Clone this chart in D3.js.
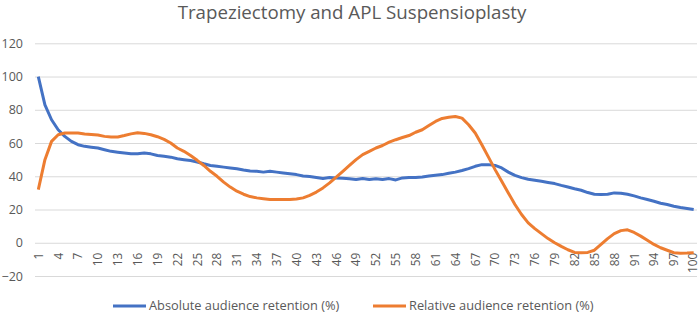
<!DOCTYPE html>
<html>
<head>
<meta charset="utf-8">
<script src="https://cdn.jsdelivr.net/npm/d3@7"></script>
<style>
  body { margin: 0; background: #fff; }
  svg { display: block; font-family: "Open Sans", "Noto Sans", sans-serif; }
</style>
</head>
<body>
<svg id="chart" width="699" height="316"></svg>
<script>
const title = "Trapeziectomy and APL Suspensioplasty";
const categories = d3.range(1, 101);
const yTicks = [-20, 0, 20, 40, 60, 80, 100, 120];
const seriesNames = ["Absolute audience retention (%)", "Relative audience retention (%)"];

const absolute = [
  100, 83, 74, 68, 64, 61, 59, 58, 57.5, 57,
  56, 55, 54.5, 54, 53.5, 53.5, 54, 53.5, 52.5, 52,
  51.5, 50.5, 50, 49.5, 48.6, 47.5, 46.5, 46, 45.5, 45,
  44.5, 43.8, 43.2, 43, 42.5, 43, 42.5, 42, 41.5, 41,
  40.2, 39.8, 39.2, 38.6, 39.2, 39, 38.8, 38.5, 38, 38.6,
  38, 38.5, 38, 38.6, 37.8, 39, 39.2, 39.2, 39.6, 40.2,
  40.6, 41, 41.8, 42.5, 43.5, 44.6, 46, 47, 47, 46.5,
  45, 42.5, 40.5, 39.2, 38.2, 37.6, 37, 36.3, 35.6, 34.5,
  33.5, 32.5, 31.6, 30.2, 29.2, 29, 29.2, 30, 29.8, 29.2,
  28.2, 27, 26, 25, 23.8, 23, 22, 21.2, 20.6, 20
];

const relative = [
  32, 50, 61, 65, 66, 66, 66, 65.5, 65.2, 64.8,
  64, 63.6, 63.6, 64.5, 65.5, 66.2, 65.8, 65, 63.8, 62.2,
  60, 57, 55, 52.5, 49.6, 46.5, 43, 40, 36.5, 33.5,
  31, 29.2, 27.8, 27, 26.5, 26, 26, 26, 26, 26.3,
  27, 28.5, 30.5, 33, 36, 39.5, 43, 46.5, 50, 53,
  55, 57, 58.5, 60.5, 62, 63.3, 64.5, 66.5, 68, 70.5,
  73, 74.8, 75.5, 76, 75, 71, 66, 59, 51.5, 44,
  37, 30, 23, 17, 12, 8.5, 5.5, 2.5, 0, -2.2,
  -4.2, -5.8, -6, -5.8, -4.5, -1, 2.5, 5.5, 7.3, 7.8,
  6.2, 4, 1.5, -1, -3, -4.5, -6, -6.3, -6.2, -6
];

const colors = ["#4472C4", "#ED7D31"];
const textColor = "#595959";

const svg = d3.select("#chart");
const plotLeft = 35, plotRight = 697, plotTop = 43.3, plotBottom = 276;

const x = d3.scalePoint().domain(categories).range([plotLeft, plotRight]).padding(0.5);
const y = d3.scaleLinear().domain([-20, 120]).range([plotBottom, plotTop]);

// title
svg.append("text")
  .attr("x", 352).attr("y", 18.5)
  .attr("text-anchor", "middle")
  .style("font-size", "18.7px")
  .style("fill", textColor)
  .text(title);

// gridlines + y labels
const yAxis = svg.append("g").attr("transform", `translate(${plotLeft},0)`)
  .call(d3.axisLeft(y).tickValues(yTicks).tickSize(-(plotRight - plotLeft)).tickPadding(12));
yAxis.select(".domain").remove();
yAxis.selectAll(".tick line").attr("stroke", "#D9D9D9").attr("stroke-width", 1);
yAxis.selectAll(".tick text")
  .style("font-size", "12.5px")
  .style("fill", textColor)
  .style("font-family", "\"Open Sans\", sans-serif");

// x labels at zero line, every 3rd category
const xAxis = svg.append("g").attr("transform", `translate(0,${y(0)})`)
  .call(d3.axisBottom(x).tickValues(categories.filter(d => (d - 1) % 3 === 0)).tickSize(0));
xAxis.select(".domain").remove();
xAxis.selectAll(".tick text")
  .attr("transform", "rotate(-90)")
  .attr("x", -10)
  .attr("y", d => d === 100 ? -1.5 : 0)   // keep last label inside the frame
  .attr("dy", "0.33em")
  .style("text-anchor", "end")
  .style("font-size", "11.8px")
  .style("fill", textColor)
  .style("font-family", "\"Open Sans\", sans-serif");

// lines
const line = d3.line().x((d, i) => x(categories[i])).y(d => y(d));
[absolute, relative].forEach((s, i) => {
  svg.append("path")
    .datum(s)
    .attr("fill", "none")
    .attr("stroke", colors[i])
    .attr("stroke-width", 3)
    .attr("stroke-linejoin", "round")
    .attr("d", line);
});

// legend
const legendX = [113, 373];
seriesNames.forEach((name, i) => {
  const g = svg.append("g").attr("transform", `translate(${legendX[i]},306)`);
  g.append("line").attr("x1", 0).attr("x2", 33).attr("y1", 0).attr("y2", 0)
    .attr("stroke", colors[i]).attr("stroke-width", 3);
  g.append("text").attr("x", 36).attr("y", 0).attr("dy", "0.35em")
    .style("font-size", "12.8px")
    .style("fill", textColor)
    .text(name);
});
</script>
</body>
</html>
